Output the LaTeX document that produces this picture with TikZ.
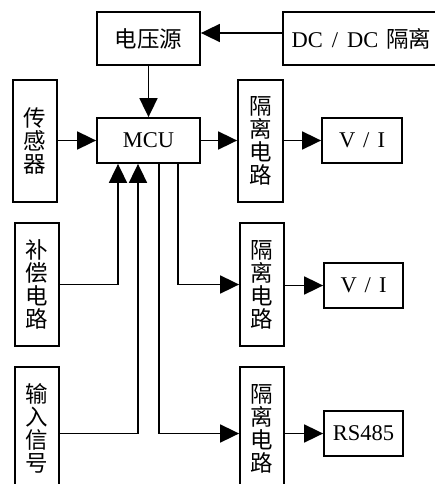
\documentclass[tikz,border=0pt]{standalone}
\usepackage{fontspec}
\setmainfont{Liberation Serif}
\newfontfamily\cjk{Noto Sans CJK SC}
\usetikzlibrary{arrows.meta}
\tikzset{
  blk/.style={draw, line width=1.8pt, rectangle, inner sep=0pt, align=center,
    font=\fontsize{22.5}{23}\selectfont},
  vbox/.style={blk, minimum width=44pt, minimum height=123pt},
  hbox/.style={blk, minimum height=45pt},
  arr/.style={line width=1.8pt, -{Triangle[length=19pt,width=18pt]}},
  ln/.style={line width=1.8pt}
}
\begin{document}
\begin{tikzpicture}[x=1pt,y=-1pt]
\useasboundingbox (0,0) rectangle (435,484);
\clip (0,0) rectangle (435,484);
\node[blk, minimum width=103pt, minimum height=53pt] (vs) at (148.5,38.5) {\cjk 电压源};
\node[blk, minimum width=157pt, minimum height=53pt] (dc) at (361.5,38.5) {DC\hspace{9pt}/\hspace{9pt}DC\hspace{8pt}{\cjk 隔离}};
\node[vbox, minimum height=122pt] (sensor) at (35,141) {\cjk 传\\\cjk 感\\\cjk 器};
\node[hbox, minimum width=103pt] (mcu) at (148.5,140.5) {MCU};
\node[vbox, minimum width=45pt, minimum height=122pt] (iso1) at (260.5,141) {\cjk 隔\\\cjk 离\\\cjk 电\\\cjk 路};
\node[hbox, minimum width=80pt] (vi1) at (362,140.5) {V\hspace{8pt}/\hspace{8pt}I};
\node[vbox] (comp) at (37,284.5) {\cjk 补\\\cjk 偿\\\cjk 电\\\cjk 路};
\node[vbox] (iso2) at (262,284.5) {\cjk 隔\\\cjk 离\\\cjk 电\\\cjk 路};
\node[hbox, minimum width=79pt] (vi2) at (363.5,285.5) {V\hspace{8pt}/\hspace{8pt}I};
\node[vbox] (input) at (37,428.5) {\cjk 输\\\cjk 入\\\cjk 信\\\cjk 号};
\node[vbox] (iso3) at (262,428.5) {\cjk 隔\\\cjk 离\\\cjk 电\\\cjk 路};
\node[hbox, minimum width=79pt] (rs) at (363.5,433.5) {RS485};
% connectors
\draw[arr] ([yshift=5.5pt]dc.west) -- ([yshift=5.5pt]vs.east);
\draw[arr] (vs.south) -- (mcu.north);
\draw[arr] (sensor.east |- mcu.east) -- (mcu.west);
\draw[arr] (mcu.east) -- (iso1.west |- mcu.east);
\draw[arr] (iso1.east |- vi1.west) -- (vi1.west);
\draw[arr] (comp.east) -| ([xshift=-30.5pt]mcu.south);
\draw[arr] (input.east |- rs.west) -| ([xshift=-10.5pt]mcu.south);
\draw[arr] ([xshift=29.5pt]mcu.south) |- (iso2.west);
\draw[arr] ([xshift=10.5pt]mcu.south) |- (iso3.west |- rs.west);
\draw[arr] (iso2.east |- vi2.west) -- (vi2.west);
\draw[arr] (iso3.east |- rs.west) -- (rs.west);
\end{tikzpicture}
\end{document}
